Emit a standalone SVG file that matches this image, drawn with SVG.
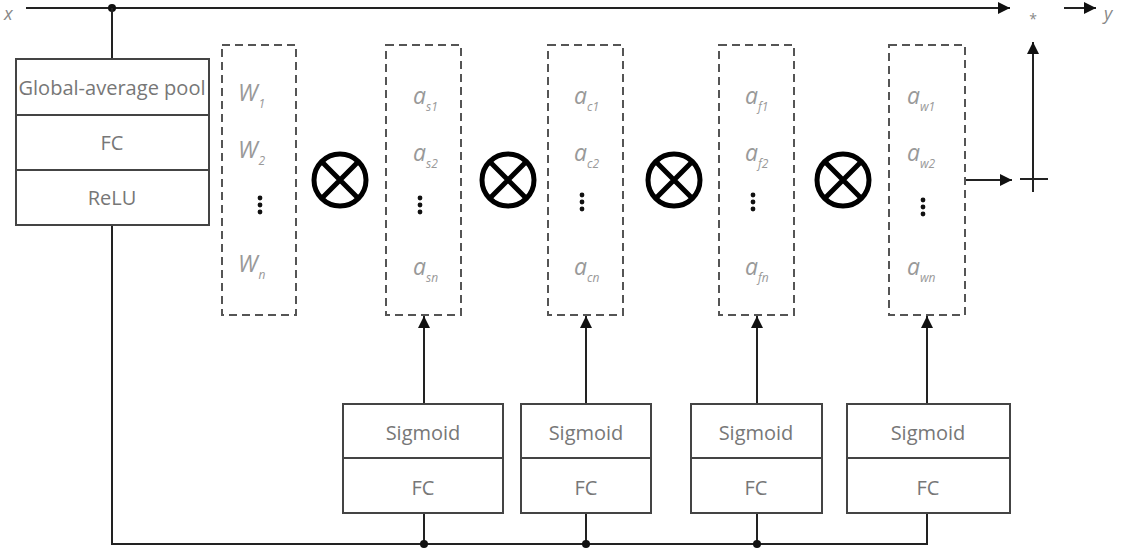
<svg xmlns="http://www.w3.org/2000/svg" width="1129" height="550" viewBox="0 0 1129 550">
<style>
.box{fill:#fff;stroke:#444;stroke-width:2}
.dash{fill:none;stroke:#555;stroke-width:2;stroke-dasharray:8 5}
.ln{fill:none;stroke:#222;stroke-width:2}
.lbl{font-family:"Open Sans","Noto Sans",sans-serif;font-size:20px;fill:#777;text-anchor:middle}
.var{font-family:"Open Sans","Noto Sans",sans-serif;font-size:23px;font-style:italic;fill:#999}
.sub{font-size:12px}
.ot{fill:none;stroke:#000;stroke-width:5}
.dot{fill:#111}
</style>
<defs>
<marker id="ah" viewBox="0 0 10 10" refX="10" refY="5" markerWidth="6" markerHeight="6" markerUnits="strokeWidth" orient="auto">
<path d="M0,0 L10,5 L0,10 z" fill="#111"/>
</marker>
</defs>

<g id="connectors">
<line class="ln" x1="26" y1="8" x2="1010" y2="8" marker-end="url(#ah)"/>
<circle class="dot" cx="112" cy="8" r="4"/>
<line class="ln" x1="112" y1="8" x2="112" y2="59"/>
<polyline class="ln" points="112,225 112,544 927,544 927,513"/>
<line class="ln" x1="424" y1="544" x2="424" y2="513"/>
<line class="ln" x1="586" y1="544" x2="586" y2="513"/>
<line class="ln" x1="757" y1="544" x2="757" y2="513"/>
<circle class="dot" cx="424" cy="544" r="4"/>
<circle class="dot" cx="586" cy="544" r="4"/>
<circle class="dot" cx="757" cy="544" r="4"/>
<line class="ln" x1="424" y1="404" x2="424" y2="316" marker-end="url(#ah)"/>
<line class="ln" x1="586" y1="404" x2="586" y2="316" marker-end="url(#ah)"/>
<line class="ln" x1="757" y1="404" x2="757" y2="316" marker-end="url(#ah)"/>
<line class="ln" x1="927" y1="404" x2="927" y2="316" marker-end="url(#ah)"/>
<line class="ln" x1="965" y1="180" x2="1012" y2="180" marker-end="url(#ah)"/>
<line class="ln" x1="1033" y1="168" x2="1033" y2="42" marker-end="url(#ah)"/>
<line class="ln" x1="1064" y1="8" x2="1096" y2="8" marker-end="url(#ah)"/>
</g>

<g id="input-x"><text class="var" x="4" y="20" style="fill:#888;font-size:18px">x</text></g>
<g id="output-y"><text class="var" x="1104" y="20" style="fill:#888;font-size:18px">y</text></g>
<g id="mult-star"><text x="1033" y="24" text-anchor="middle" font-family="'Open Sans',sans-serif" font-size="14" fill="#888">*</text></g>
<g id="plus">
<line class="ln" x1="1020" y1="179" x2="1048" y2="179"/>
<line class="ln" x1="1033" y1="166" x2="1033" y2="192"/>
</g>

<g id="se-block">
<rect class="box" x="16" y="59" width="193" height="166"/>
<line class="box" x1="16" y1="115" x2="209" y2="115"/>
<line class="box" x1="16" y1="170" x2="209" y2="170"/>
<text class="lbl" x="112" y="95" textLength="187" lengthAdjust="spacingAndGlyphs">Global-average pool</text>
<text class="lbl" x="112" y="150">FC</text>
<text class="lbl" x="112" y="205">ReLU</text>
</g>

<g id="weights-w">
<rect class="dash" x="222" y="45" width="74" height="270"/>
<text class="var" x="238" y="101">W<tspan class="sub" dx="1" dy="7">1</tspan></text>
<text class="var" x="238" y="158">W<tspan class="sub" dx="1" dy="7">2</tspan></text>
<circle class="dot" cx="260" cy="198" r="2.4"/><circle class="dot" cx="260" cy="205" r="2.4"/><circle class="dot" cx="260" cy="212" r="2.4"/>
<text class="var" x="238" y="272">W<tspan class="sub" dx="1" dy="7">n</tspan></text>
</g>

<g id="weights-s">
<rect class="dash" x="386" y="45" width="75" height="270"/>
<text class="var" x="413" y="104">a<tspan class="sub" dy="7">s1</tspan></text>
<text class="var" x="413" y="161">a<tspan class="sub" dy="7">s2</tspan></text>
<circle class="dot" cx="420" cy="198" r="2.4"/><circle class="dot" cx="420" cy="205" r="2.4"/><circle class="dot" cx="420" cy="212" r="2.4"/>
<text class="var" x="413" y="275">a<tspan class="sub" dy="7">sn</tspan></text>
</g>

<g id="weights-c">
<rect class="dash" x="548" y="45" width="75" height="270"/>
<text class="var" x="574" y="104">a<tspan class="sub" dy="7">c1</tspan></text>
<text class="var" x="574" y="161">a<tspan class="sub" dy="7">c2</tspan></text>
<circle class="dot" cx="582" cy="195" r="2.4"/><circle class="dot" cx="582" cy="202" r="2.4"/><circle class="dot" cx="582" cy="209" r="2.4"/>
<text class="var" x="574" y="275">a<tspan class="sub" dy="7">cn</tspan></text>
</g>

<g id="weights-f">
<rect class="dash" x="719" y="45" width="75" height="270"/>
<text class="var" x="745" y="104">a<tspan class="sub" dy="7">f1</tspan></text>
<text class="var" x="745" y="161">a<tspan class="sub" dy="7">f2</tspan></text>
<circle class="dot" cx="753" cy="195" r="2.4"/><circle class="dot" cx="753" cy="202" r="2.4"/><circle class="dot" cx="753" cy="209" r="2.4"/>
<text class="var" x="745" y="275">a<tspan class="sub" dy="7">fn</tspan></text>
</g>

<g id="weights-w2">
<rect class="dash" x="889" y="45" width="76" height="270"/>
<text class="var" x="907" y="104">a<tspan class="sub" dy="7">w1</tspan></text>
<text class="var" x="907" y="161">a<tspan class="sub" dy="7">w2</tspan></text>
<circle class="dot" cx="923" cy="200" r="2.4"/><circle class="dot" cx="923" cy="207" r="2.4"/><circle class="dot" cx="923" cy="214" r="2.4"/>
<text class="var" x="907" y="275">a<tspan class="sub" dy="7">wn</tspan></text>
</g>

<g id="otimes-1"><circle class="ot" cx="340" cy="180" r="26"/><path class="ot" d="M321.6,161.6 L358.4,198.4 M358.4,161.6 L321.6,198.4"/></g>
<g id="otimes-2"><circle class="ot" cx="508" cy="180" r="26"/><path class="ot" d="M489.6,161.6 L526.4,198.4 M526.4,161.6 L489.6,198.4"/></g>
<g id="otimes-3"><circle class="ot" cx="674" cy="180" r="26"/><path class="ot" d="M655.6,161.6 L692.4,198.4 M692.4,161.6 L655.6,198.4"/></g>
<g id="otimes-4"><circle class="ot" cx="843" cy="180" r="26"/><path class="ot" d="M824.6,161.6 L861.4,198.4 M861.4,161.6 L824.6,198.4"/></g>

<g id="sig-1">
<rect class="box" x="343" y="404" width="160" height="109"/>
<line class="box" x1="343" y1="458" x2="503" y2="458"/>
<text class="lbl" x="423" y="440">Sigmoid</text>
<text class="lbl" x="423" y="495">FC</text>
</g>
<g id="sig-2">
<rect class="box" x="521" y="404" width="130" height="109"/>
<line class="box" x1="521" y1="458" x2="651" y2="458"/>
<text class="lbl" x="586" y="440">Sigmoid</text>
<text class="lbl" x="586" y="495">FC</text>
</g>
<g id="sig-3">
<rect class="box" x="691" y="404" width="131" height="109"/>
<line class="box" x1="691" y1="458" x2="822" y2="458"/>
<text class="lbl" x="756" y="440">Sigmoid</text>
<text class="lbl" x="756" y="495">FC</text>
</g>
<g id="sig-4">
<rect class="box" x="847" y="404" width="163" height="109"/>
<line class="box" x1="847" y1="458" x2="1010" y2="458"/>
<text class="lbl" x="928" y="440">Sigmoid</text>
<text class="lbl" x="928" y="495">FC</text>
</g>
</svg>
